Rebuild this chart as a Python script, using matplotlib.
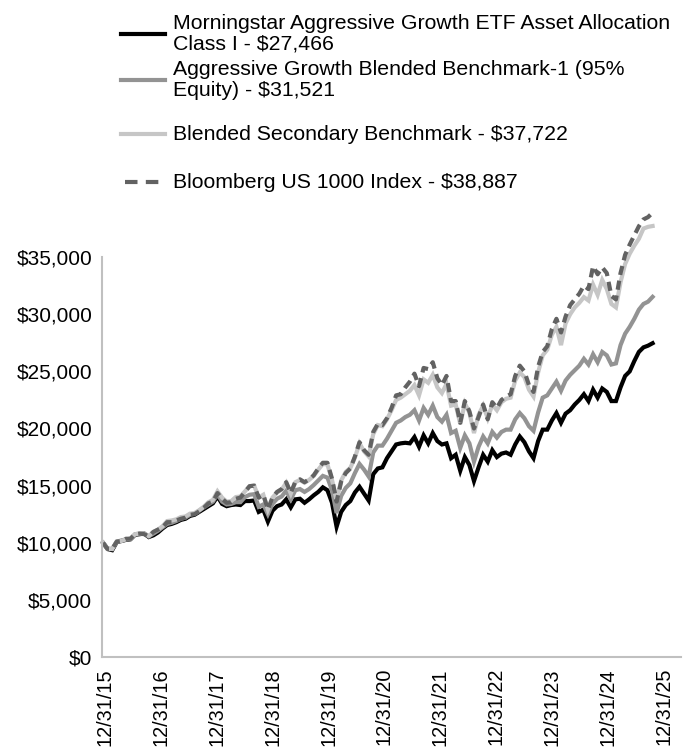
import matplotlib
matplotlib.use('Agg')
import matplotlib.pyplot as plt
from matplotlib.lines import Line2D
import matplotlib.ticker as mtick

plt.rcParams['font.family'] = ['Liberation Sans', 'DejaVu Sans']

# monthly values, 12/31/15 .. 12/31/25 (hypothetical $10,000 investment)
fund = [
    10000, 9450, 9350, 10050, 10150, 10250, 10300, 10700, 10750, 10800, 10500, 10650,
    10900, 11250, 11550, 11650, 11800, 12000, 12100, 12350, 12450, 12700, 12950, 13200,
    13450, 14050, 13400, 13200, 13300, 13350, 13300, 13650, 13650, 13700, 12700, 12900,
    11850, 12800, 13200, 13350, 13800, 13100, 13800, 13850, 13500, 13800, 14150, 14450,
    14850, 14600, 13500, 11400, 12700, 13300, 13650, 14400, 14900, 14300, 13700, 16000,
    16500, 16600, 17400, 18000, 18600, 18700, 18750, 18700, 19250, 18400, 19400, 18700,
    19600, 18900, 18600, 18700, 17400, 17700, 16300, 17500, 16800, 15400, 16600, 17700,
    17100, 18100, 17500, 17800, 17900, 17700, 18600, 19300, 18800, 18000, 17400, 18900,
    19900, 19900, 20700, 21350, 20500, 21300, 21600, 22100, 22500, 23000, 22400, 23400,
    22700, 23500, 23200, 22400, 22400, 23600, 24600, 25000, 25900, 26700, 27100, 27250,
    27466,
]
bench1 = [
    10000, 9500, 9450, 10100, 10200, 10300, 10350, 10750, 10800, 10800, 10550, 10800,
    11050, 11350, 11650, 11750, 11900, 12100, 12200, 12450, 12550, 12800, 13100, 13350,
    13600, 14250, 13600, 13350, 13400, 13550, 13550, 14000, 14200, 14250, 13150, 13350,
    12500, 13400, 13850, 14050, 14550, 13800, 14600, 14700, 14450, 14700, 15050, 15450,
    15850, 15700, 14600, 12600, 14100, 14800, 15200, 16100, 16900, 16400, 15800, 17900,
    18500, 18500, 19100, 19800, 20500, 20700, 21000, 21200, 21600, 20700, 21800, 21200,
    22000, 21000, 20600, 21200, 19600, 19800, 18300, 19400, 18700, 17100, 18400, 19300,
    18700, 19700, 19200, 19700, 19900, 19900, 20800, 21350, 20900, 20200, 19800, 21400,
    22700, 22900, 23500, 24100, 23300, 24200, 24700, 25100, 25500, 26100, 25600, 26500,
    25800, 26700, 26400, 25600, 25700, 27300, 28300, 28900, 29600, 30400, 30900, 31100,
    31521,
]
secondary = [
    10000, 9450, 9450, 10100, 10150, 10300, 10350, 10750, 10800, 10800, 10600, 10950,
    11150, 11450, 11900, 11950, 12050, 12250, 12300, 12550, 12600, 12850, 13150, 13550,
    13750, 14500, 13950, 13600, 13650, 14000, 14050, 14500, 14950, 15000, 13950, 14200,
    12900, 13950, 14400, 14650, 15250, 14300, 15300, 15500, 15250, 15500, 15850, 16400,
    16900, 16850, 15500, 13700, 15450, 16200, 16550, 17450, 18700, 18000, 17550, 19500,
    20300, 20200, 20800, 21600, 22500, 22700, 23000, 23300, 23800, 22900, 24300, 24000,
    24700, 23600, 23100, 23900, 22000, 22100, 20400, 22200, 21400, 19600, 21200, 22000,
    20900, 22100, 21600, 22300, 22600, 22700, 24200, 24900, 24500, 23400, 22800, 24900,
    26400, 26900, 28200, 28900, 27300, 29200, 30000, 30600, 31000, 31500, 31200, 32600,
    31700, 33000, 32200, 30900, 30600, 32800, 34400, 35300, 36000, 36600, 37500, 37650,
    37722,
]
us1000 = [
    10000, 9450, 9450, 10100, 10150, 10350, 10350, 10750, 10800, 10750, 10550, 10950,
    11150, 11350, 11800, 11800, 11950, 12100, 12200, 12450, 12500, 12750, 13050, 13450,
    13600, 14350, 13850, 13500, 13550, 13850, 13950, 14450, 14950, 15000, 13950, 14200,
    12900, 13950, 14450, 14700, 15300, 14350, 15350, 15550, 15300, 15550, 15900, 16500,
    17000, 17000, 15600, 13600, 15350, 16100, 16500, 17550, 18800, 18100, 17700, 19700,
    20400, 20300, 20900, 21800, 22900, 23000, 23600, 24100, 24800, 23700, 25300, 25200,
    25800, 24400, 23800, 24600, 22400, 22400, 20500, 22400, 21500, 20000, 21000, 22100,
    20800, 22300, 21800, 22500, 22800, 23000, 24600, 25500, 25000, 23800, 23200, 25400,
    26700, 27200, 28700, 29600, 28400, 29800, 30800, 31300, 31800, 32500, 32200, 34200,
    33500, 34100, 33600, 31600, 31300, 33600, 35200, 36100, 36900, 37700, 38300, 38500,
    38887,
]

labels = [
    'Morningstar Aggressive Growth ETF Asset Allocation\nClass I - $27,466',
    'Aggressive Growth Blended Benchmark-1 (95%\nEquity) - $31,521',
    'Blended Secondary Benchmark - $37,722',
    'Bloomberg US 1000 Index - $38,887',
]
tick_labels = ['12/31/15', '12/31/16', '12/31/17', '12/31/18', '12/31/19', '12/31/20',
               '12/31/21', '12/31/22', '12/31/23', '12/31/24', '12/31/25']

colors = ['#000000', '#939393', '#c6c6c6', '#626262']
W, H = 689, 749

f = plt.figure(figsize=(W / 100, H / 100), dpi=100)
ax = f.add_axes([102 / W, 1 - 657 / H, (681 - 102) / W, (657 - 200) / H])

months = range(len(fund))
ax.plot(months, fund, lw=3, color=colors[0], solid_joinstyle='miter', clip_on=False)
ax.plot(months, bench1, lw=3, color=colors[1], solid_joinstyle='miter', clip_on=False)
ax.plot(months, secondary, lw=3, color=colors[2], solid_joinstyle='miter', clip_on=False)
ax.plot(months, us1000, lw=3, color=colors[3], dashes=(2.2, 1.4), clip_on=False)

ax.set_xlim(-0.22, 126.2)
ax.set_ylim(0, 40000)
ax.set_yticks(range(0, 35001, 5000))
ax.yaxis.set_major_formatter(mtick.StrMethodFormatter('${x:,.0f}'))
ax.set_xticks([0.44 + 12.2 * i for i in range(len(tick_labels))])
ax.set_xticklabels(tick_labels, rotation=90, va='top', ha='center')
ax.tick_params(length=0)
ax.tick_params(axis='x', pad=8, labelsize=14.3)
ax.tick_params(axis='y', pad=7, labelsize=15)

ax.spines[['right', 'top']].set_visible(False)
for s in ['left', 'bottom']:
    ax.spines[s].set_color('#c0c0c0')
    ax.spines[s].set_linewidth(1.5)
ax.spines['left'].set_bounds(0, 35000)

# legend, drawn by hand in figure pixels
handle_y = [34, 80, 134, 182]
for i, (lab, c) in enumerate(zip(labels, colors)):
    y = 1 - handle_y[i] / H
    if i == 3:
        f.add_artist(Line2D([125 / W, 162 / W], [y, y], lw=3, color=c, dashes=(3, 2)))
    else:
        f.add_artist(Line2D([121 / W, 165 / W], [y, y], lw=3, color=c))
    f.text(173 / W, y, lab, fontsize=15.3, va='center', ha='left', linespacing=1.12)

f.savefig('out.png', dpi=100)
